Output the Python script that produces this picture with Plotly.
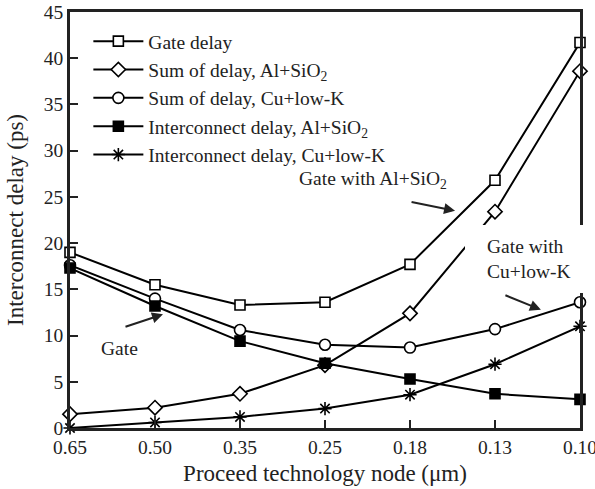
import plotly.graph_objects as go

# Technology nodes (µm) along the x axis
nodes = ["0.65", "0.50", "0.35", "0.25", "0.18", "0.13", "0.10"]

# Delays in ps for each node
gate_delay = [19.0, 15.5, 13.3, 13.6, 17.7, 26.8, 41.7]
sum_al_sio2 = [1.5, 2.2, 3.7, 6.8, 12.4, 23.4, 38.6]
sum_cu_lowk = [17.6, 14.0, 10.6, 9.0, 8.7, 10.7, 13.6]
inter_al_sio2 = [17.3, 13.2, 9.4, 7.0, 5.3, 3.7, 3.1]
inter_cu_lowk = [0.0, 0.6, 1.2, 2.1, 3.6, 6.9, 11.0]

series_names = [
    "Gate delay",
    "Sum of delay, Al+SiO<sub>2</sub>",
    "Sum of delay, Cu+low-K",
    "Interconnect delay, Al+SiO<sub>2</sub>",
    "Interconnect delay, Cu+low-K",
]

FONT = "Liberation Serif, Times New Roman, serif"
FS = 19.5
x_idx = list(range(len(nodes)))

styles = [
    dict(symbol="square", size=10, color="white"),
    dict(symbol="diamond", size=11, color="white"),
    dict(symbol="circle", size=11, color="white"),
    dict(symbol="square", size=10, color="black"),
    dict(symbol="asterisk-open", size=11, color="black"),
]
values = [gate_delay, sum_al_sio2, sum_cu_lowk, inter_al_sio2, inter_cu_lowk]

fig = go.Figure()
for name, vals, st in zip(series_names, values, styles):
    fig.add_trace(go.Scatter(
        x=x_idx, y=vals, name=name, mode="lines+markers",
        line=dict(color="black", width=2),
        marker=dict(symbol=st["symbol"], size=st["size"], color=st["color"],
                    line=dict(color="black", width=1.6)),
        cliponaxis=False,
    ))

# white panel behind the "Gate with Cu+low-K" label
fig.add_shape(type="rect", xref="x domain", yref="y domain",
              x0=0.7745, x1=1.01, y0=0.3245, y1=0.488,
              fillcolor="white", line=dict(width=0), layer="above")

ann_font = dict(family=FONT, size=FS, color="#222")
fig.add_annotation(x=3.565, y=26.8, text="Gate with Al+SiO<sub>2</sub>",
                   showarrow=False, font=ann_font, xanchor="center", yanchor="middle")
fig.add_annotation(x=4.88, y=18.3, text="Gate with<br>Cu+low-K", align="left",
                   showarrow=False, font=ann_font, xanchor="left", yanchor="middle")
fig.add_annotation(x=0.588, y=8.65, text="Gate",
                   showarrow=False, font=ann_font, xanchor="center", yanchor="middle")

arrow = dict(showarrow=True, arrowhead=2, arrowsize=1.1, arrowwidth=2,
             arrowcolor="#222", text="", axref="pixel", ayref="pixel")
fig.add_annotation(x=4.53, y=23.5, ax=-45, ay=-9, **arrow)
fig.add_annotation(x=5.54, y=12.8, ax=-37, ay=-15, **arrow)
fig.add_annotation(x=1.094, y=12.3, ax=-39, ay=13, **arrow)

fig.update_layout(
    width=595, height=489,
    margin=dict(l=70, r=15, t=12, b=61, autoexpand=False),
    paper_bgcolor="white", plot_bgcolor="white",
    font=dict(family=FONT, size=FS, color="#222"),
    showlegend=True,
    legend=dict(x=0.036, y=0.976, xanchor="left", yanchor="top",
                bgcolor="rgba(0,0,0,0)", borderwidth=0, itemwidth=50,
                font=dict(family=FONT, size=FS, color="#222")),
)
fig.update_xaxes(
    range=[0, 6], tickmode="array", tickvals=x_idx, ticktext=nodes,
    ticks="inside", ticklen=8, tickwidth=2, tickcolor="#222",
    ticklabeloverflow="allow", automargin=False,
    showline=True, linecolor="#222", linewidth=2.5, mirror=True,
    showgrid=False, zeroline=False,
    title=dict(text="Proceed technology node (μm)", standoff=8),
)
fig.update_yaxes(
    range=[0, 45], dtick=5, ticks="inside", ticklen=8, tickwidth=2, tickcolor="#222",
    automargin=False,
    showline=True, linecolor="#222", linewidth=2.5, mirror=True,
    showgrid=False, zeroline=False,
    title=dict(text="Interconnect delay (ps)", standoff=14),
)

fig.write_html("out.html")
